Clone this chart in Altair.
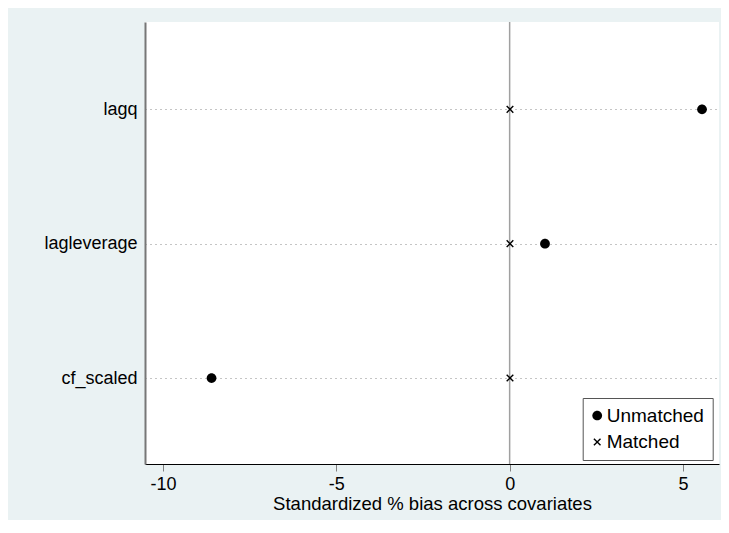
import altair as alt
import pandas as pd

variables = ["lagq", "lagleverage", "cf_scaled"]
unmatched = [5.55, 1.02, -8.60]
matched = [0.01, 0.01, 0.01]
groups = ["Unmatched", "Matched"]
x_ticks = [-10, -5, 0, 5]

n = len(variables)
rows = []
for i, v in enumerate(variables):
    pos = n - i
    rows.append({"var": v, "pos": pos, "bias": unmatched[i], "group": groups[0]})
    rows.append({"var": v, "pos": pos, "bias": matched[i], "group": groups[1]})
df = pd.DataFrame(rows)

label_map = "{" + ",".join(f"'{n - i}':'{v}'" for i, v in enumerate(variables)) + "}"
circle_path = "M-1,0A1,1,0,1,1,1,0A1,1,0,1,1,-1,0Z"
s = 0.78
t = 0.2
xpath = (
    f"M{-s},{-s + t}L{-s + t},{-s}L0,{-t}L{s - t},{-s}L{s},{-s + t}L{t},0"
    f"L{s},{s - t}L{s - t},{s}L0,{t}L{-s + t},{s}L{-s},{s - t}L{-t},0Z"
)

FONT = "Liberation Sans"

xscale = alt.Scale(domain=[-10.52, 6.04], nice=False, zero=False)
yscale = alt.Scale(domain=[0.36, 3.65], nice=False, zero=False)

zero_line = alt.Chart(pd.DataFrame({"x": [0]})).mark_rule(
    color="#a0a0a0", strokeWidth=1.5
).encode(x=alt.X("x:Q", scale=xscale))

points = alt.Chart(df).mark_point(filled=True, opacity=1, size=95).encode(
    x=alt.X(
        "bias:Q",
        scale=xscale,
        axis=alt.Axis(
            values=x_ticks,
            title="Standardized % bias across covariates",
            labelExpr="datum.value < 0 ? '-' + abs(datum.value) : '' + datum.value",
            grid=False,
            domainColor="#000000",
            domainWidth=1,
            tickColor="#808080",
            tickSize=7,
            labelFontSize=18,
            labelPadding=4,
            titleFontSize=18.5,
            titleFontWeight="normal",
            titlePadding=1,
            labelColor="#000000",
            titleColor="#000000",
            labelFont=FONT,
            titleFont=FONT,
        ),
    ),
    y=alt.Y(
        "pos:Q",
        scale=yscale,
        axis=alt.Axis(
            values=list(range(1, n + 1)),
            labelExpr=label_map + "['' + datum.value]",
            title=None,
            grid=True,
            gridDash=[1, 4],
            gridColor="#8a8a8a",
            gridWidth=1,
            ticks=False,
            domainColor="#777777",
            domainWidth=2,
            labelFontSize=18,
            labelPadding=8,
            labelColor="#000000",
            labelFont=FONT,
        ),
    ),
    shape=alt.Shape(
        "group:N",
        scale=alt.Scale(domain=groups, range=[circle_path, xpath]),
        legend=alt.Legend(
            title=None,
            orient="none",
            legendX=437.7,
            legendY=376,
            fillColor="#ffffff",
            strokeColor="#555555",
            padding=8,
            labelFontSize=19,
            labelFont=FONT,
            labelColor="#000000",
            labelExpr="datum.label + '\u2002'",
            rowPadding=6.5,
            symbolFillColor="#000000",
            symbolStrokeColor="#000000",
            symbolStrokeWidth=0,
            symbolSize=95,
            symbolOffset=-3,
            labelOffset=0,
        ),
    ),
    color=alt.value("#000000"),
)

chart = (
    alt.layer(zero_line, points)
    .properties(
        width=574,
        height=442,
        autosize=alt.AutoSizeParams(type="none"),
        padding={"left": 137, "top": 14, "right": 2, "bottom": 56},
        background="#EAF2F3",
    )
    .configure_view(stroke=None, fill="#ffffff")
)

chart.save("out.html", embed_options={"renderer": "svg", "actions": False})
